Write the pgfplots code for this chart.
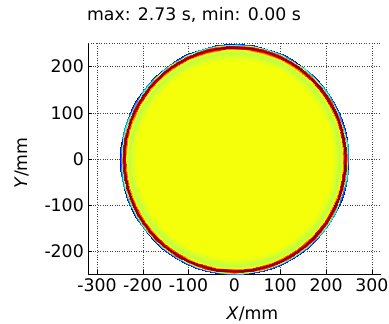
\documentclass[border=0pt]{standalone}
\usepackage{fontspec}
\setmainfont{DejaVu Sans}
\usepackage{pgfplots}
\pgfplotsset{compat=1.18}

\newcommand\fs{\fontsize{17.3}{20}\selectfont}

% Radial arrival-time profile of the disc: radius (mm) / time (s)
\def\ringprofile{0/1.679,214/1.679,224/1.60,230/1.53,234/1.58,236/1.70,%
238/2.05,239.5/2.45,241/2.70,243/2.72,244.5/2.55,246/2.10,247.3/1.30,%
248.5/0.75,249.7/0.35}

% Polar mesh: every 5 degrees the same radial profile
\def\meshcoords{}
\foreach \ang in {0,5,...,360}{%
  \foreach \rr/\vv in \ringprofile{%
    \xdef\meshcoords{\unexpanded\expandafter{\meshcoords} (\ang,\rr) [\vv]}%
  }%
}

\pgfplotsset{
  ringsurf/.style={surf, shader=interp, data cs=polar, point meta=explicit,
    mesh/cols=15, mesh/rows=73},
}

\begin{document}
\begin{tikzpicture}
\begin{axis}[
  scale only axis, width=292.7pt, height=230.8pt,
  xmin=-319, xmax=320, ymin=-249, ymax=250,
  axis x line*=bottom, axis y line*=left,
  axis line style={-, black, line width=0.7pt},
  xtick={-300,-200,...,300}, ytick={-200,-100,...,200},
  grid=major, major grid style={dotted, black!75, line width=0.6pt},
  tick align=inside, major tick length=4pt,
  tick style={black, line width=0.6pt},
  colormap/jet, point meta min=0, point meta max=2.73,
  /pgf/number format/assume math mode=true,
  ticklabel style={font=\fs},
  xticklabel style={yshift=-1pt},
  yticklabel style={xshift=-1pt},
  title={max: 2.73 s, min: 0.00 s},
  title style={font=\fs, at={(axis description cs:0.361,1.0758)}, anchor=base, inner sep=0pt},
  xlabel={\textit{X}/mm},
  xlabel style={font=\fs, at={(axis description cs:0.561,-0.198)}, anchor=base, inner sep=0pt},
  ylabel={\textit{Y}/mm},
  ylabel style={font=\fs, at={(axis description cs:-0.2094,0.482)}, anchor=base, inner sep=0pt},
]
\coordinate (o) at (rel axis cs:0,0);
\draw[dotted, black!75, line width=0.6pt] (rel axis cs:0,1) -- (rel axis cs:1,1) -- (rel axis cs:1,0);
\edef\ringplot{\noexpand\addplot[ringsurf] coordinates {\meshcoords};}
\ringplot
\end{axis}
\pgfresetboundingbox
\path ([shift={(-88.3pt,-49.7pt)}]o) rectangle ++(389pt,324pt);
\end{tikzpicture}
\end{document}
